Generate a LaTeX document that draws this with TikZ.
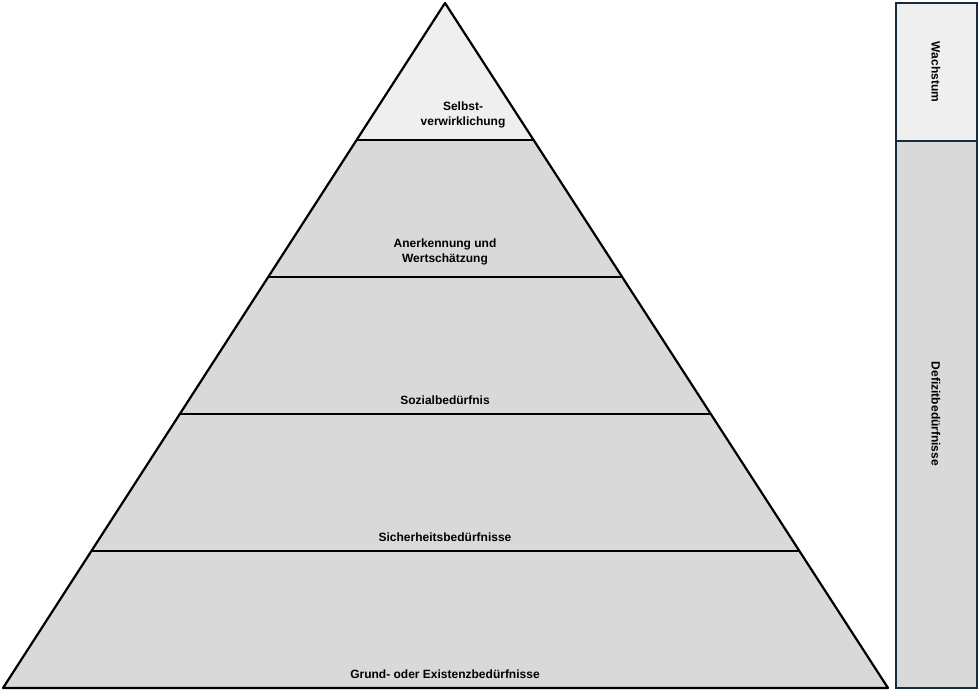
\documentclass[tikz,border=0pt]{standalone}
\usepackage{fontspec}
\setmainfont{Liberation Sans}
\begin{document}
\begin{tikzpicture}[x=1pt,y=-1pt,
  lbl/.style={font=\bfseries\fontsize{12}{15}\selectfont, align=center, inner sep=0pt},
  layer/.style={draw=black, line width=1.6pt, line join=round}]
\useasboundingbox (0,0) rectangle (980,696);
\definecolor{lite}{HTML}{EFEFEF}
\definecolor{mid}{HTML}{D9D9D9}
\definecolor{navy}{HTML}{1C2B3A}
% layers
\fill[mid] (3,688) -- (445,3) -- (888,688) -- cycle;
\fill[lite] (356.6,140) -- (445,3) -- (533.6,140) -- cycle;
\draw[layer] (356.6,140) -- (533.6,140);
\draw[layer] (268.2,277) -- (622.2,277);
\draw[layer] (179.8,414) -- (710.8,414);
\draw[layer] (91.4,551) -- (799.4,551);
\draw[black, line width=2.2pt, line join=round] (3,688) -- (445,3) -- (888,688) -- cycle;
% labels
\node[lbl] (l1) at (463,115) {Selbst-\\verwirklichung};
\node[lbl] (l2) at (445,252) {Anerkennung und\\Wertschätzung};
\node[lbl] (l3) at (445,400) {Sozialbedürfnis};
\node[lbl] (l4) at (445,537) {Sicherheitsbedürfnisse};
\node[lbl] (l5) at (445,674) {Grund- oder Existenzbedürfnisse};
% side bar
\draw[navy, line width=1.6pt, fill=lite] (896,3) rectangle (977,141);
\draw[navy, line width=1.6pt, fill=mid] (896,141) rectangle (977,688);
\node[lbl, rotate=-90] (w) at (936,72) {Wachstum};
\node[lbl, rotate=-90] (d) at (936,414) {Defizitbedürfnisse};
\end{tikzpicture}
\end{document}
